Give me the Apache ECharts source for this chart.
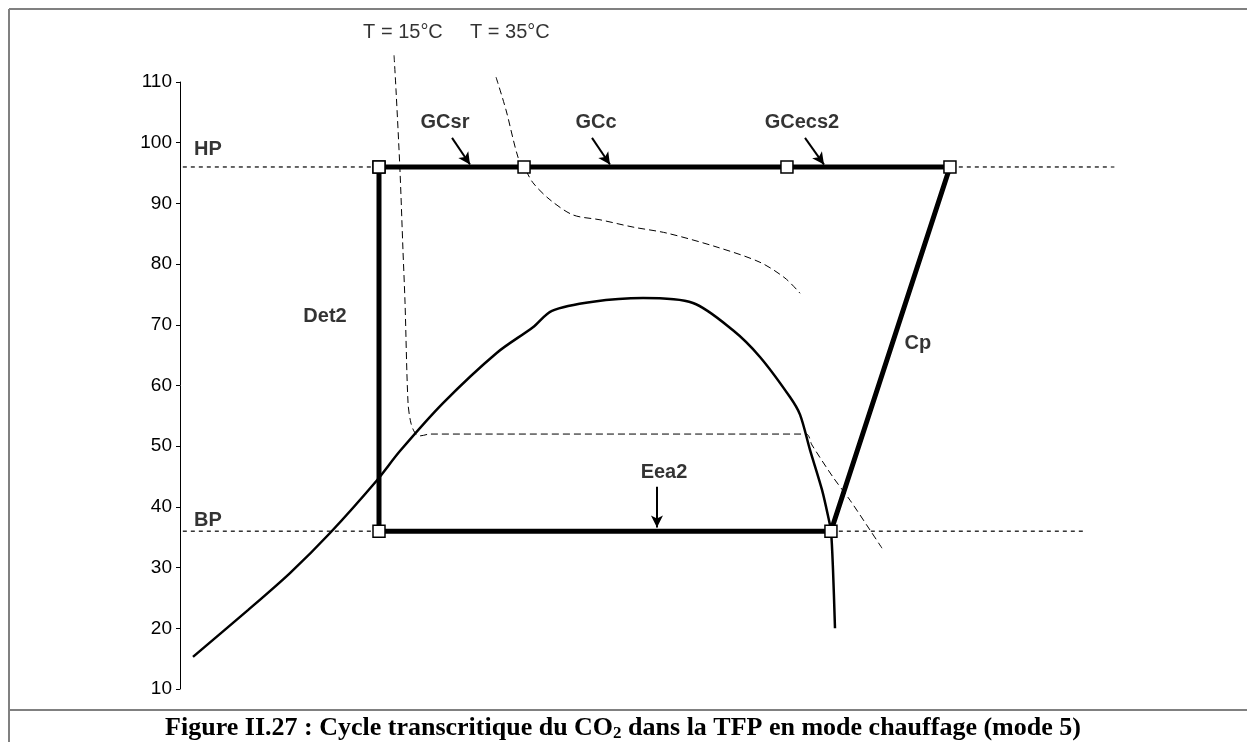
<!DOCTYPE html>
<html>
<head>
<meta charset="utf-8">
<script src="https://cdn.jsdelivr.net/npm/echarts@6/dist/echarts.min.js"></script>
<style>
  html, body { margin: 0; padding: 0; background: #fff; }
  #main { width: 1247px; height: 742px; }
</style>
</head>
<body>
<div id="main"></div>
<script>
// cycle (enthalpie arbitraire 0-100, pression en bar)
let cycleX = [21.17, 36.6, 64.57, 81.91, 69.25, 21.17, 21.17];
let cycleY = [96, 96, 96, 96, 36, 36, 96];

// courbe de saturation
let domeX = [1.38, 7.23, 11.7, 15.96, 20.96, 23.4, 27.98, 33.72, 37.55, 39.57, 43.94, 49.26, 54.57, 58.83, 61.7, 64.89, 65.96, 67.02, 68.3, 69.04, 69.26, 69.47, 69.68];
let domeY = [15.3, 23.0, 29.1, 35.7, 44.4, 49.2, 57.1, 65.4, 69.6, 72.3, 73.8, 74.4, 73.6, 69.1, 64.7, 58.1, 55.2, 49.4, 42.8, 37.8, 36.0, 29.6, 20.0];

// isothermes
let iso15X = [22.77, 22.98, 23.4, 23.72, 23.94, 24.26, 24.57, 25.0, 25.53, 26.6, 66.6, 67.23, 69.47, 71.28, 73.4, 74.68];
let iso15Y = [114.4, 108.7, 95.5, 82.3, 73.6, 57.1, 53.8, 52.2, 51.7, 52.0, 52.0, 50.2, 44.9, 41.1, 36.2, 33.2];
let iso35X = [33.62, 34.68, 35.96, 36.6, 37.55, 39.36, 41.81, 44.68, 48.19, 51.81, 57.13, 61.7, 64.36, 65.96];
let iso35Y = [110.8, 105.4, 97.6, 96.0, 93.4, 90.6, 88.1, 87.3, 86.1, 85.1, 82.8, 80.3, 77.7, 75.2];

// niveaux de pression
let hpX = [0.3, 99.4];
let hpY = [96, 96];
let bpX = [0.3, 96.4];
let bpY = [36, 36];

// étiquettes
let boldText = ["HP", "BP", "Det2", "Cp", "GCsr", "GCc", "GCecs2", "Eea2"];
let boldX = [2.98, 2.98, 15.43, 78.5, 28.19, 44.26, 66.17, 51.49];
let boldY = [98.8, 37.8, 71.3, 66.9, 103.4, 103.4, 103.4, 45.75];
let tText = ["T = 15°C", "T = 35°C"];
let tX = [23.72, 35.1];
let tY = [118.2, 118.2];

// flèches
let arrowFrom = [[28.94, 100.8], [43.83, 100.8], [66.49, 100.8], [50.74, 43.3]];
let arrowTo = [[30.85, 96.4], [45.74, 96.4], [68.51, 96.4], [50.74, 36.6]];

function zip(xs, ys) {
  return xs.map((x, i) => [x, ys[i]]);
}

let myChart = echarts.init(document.getElementById("main"));

let dashed = function (name, xs, ys, dash) {
  return {
    name: name,
    type: "line",
    data: zip(xs, ys),
    showSymbol: false,
    clip: false,
    smooth: 0.3,
    z: 2,
    lineStyle: { color: "#000", width: 1, type: dash },
  };
};

let option = {
  animation: false,
  grid: { left: 180, right: 127, top: 82, bottom: 53 },
  xAxis: {
    type: "value",
    min: 0,
    max: 100,
    show: false,
  },
  yAxis: {
    type: "value",
    min: 10,
    max: 110,
    interval: 10,
    splitLine: { show: false },
    axisLine: { show: true, lineStyle: { color: "#000", width: 1 } },
    axisTick: { show: true, length: 4, lineStyle: { color: "#000" } },
    axisLabel: {
      color: "#000",
      fontSize: 19,
      fontFamily: "Liberation Sans, Arial",
      margin: 8,
    },
  },
  graphic: [
    //cadre
    { type: "line", shape: { x1: 9, y1: 9, x2: 1247, y2: 9 }, style: { stroke: "#808080", lineWidth: 2 } },
    { type: "line", shape: { x1: 9, y1: 9, x2: 9, y2: 742 }, style: { stroke: "#808080", lineWidth: 2 } },
    { type: "line", shape: { x1: 9, y1: 710, x2: 1247, y2: 710 }, style: { stroke: "#808080", lineWidth: 2 } },
    {
      type: "text",
      x: 623,
      y: 728,
      style: {
        text: "Figure II.27 : Cycle transcritique du CO{sub|2} dans la TFP en mode chauffage (mode 5)",
        font: "bold 26px 'Liberation Serif', 'Times New Roman'",
        fill: "#000",
        align: "center",
        verticalAlign: "middle",
        rich: {
          sub: {
            font: "bold 17px 'Liberation Serif', 'Times New Roman'",
            fill: "#000",
            padding: [11, 0, 0, 0],
          },
        },
      },
    },
  ],
  series: [
    {
      name: "HP",
      type: "line",
      data: zip(hpX, hpY),
      showSymbol: false,
      z: 1,
      lineStyle: { color: "#000", width: 1.2, type: [4, 4] },
    },
    {
      name: "BP",
      type: "line",
      data: zip(bpX, bpY),
      showSymbol: false,
      z: 1,
      lineStyle: { color: "#000", width: 1.2, type: [4, 4] },
    },
    dashed("T15", iso15X, iso15Y, [7, 4]),
    dashed("T35", iso35X, iso35Y, [7, 4]),
    {
      name: "saturation",
      type: "line",
      data: zip(domeX, domeY),
      showSymbol: false,
      smooth: 0.3,
      z: 3,
      lineStyle: { color: "#000", width: 2.5 },
    },
    {
      name: "cycle",
      type: "line",
      data: zip(cycleX, cycleY),
      symbol: "rect",
      symbolSize: 12,
      showSymbol: true,
      z: 5,
      lineStyle: { color: "#000", width: 5 },
      itemStyle: { color: "#fff", borderColor: "#000", borderWidth: 1.5 },
      //flèches
      markLine: {
        silent: true,
        symbol: ["none", "arrow"],
        symbolSize: [9, 12],
        label: { show: false },
        lineStyle: { color: "#000", width: 2, type: "solid" },
        data: arrowFrom.map((p, i) => [{ coord: p }, { coord: arrowTo[i] }]),
      },
    },
    {
      name: "labels",
      type: "scatter",
      data: zip(boldX, boldY),
      symbolSize: 0,
      clip: false,
      z: 6,
      label: {
        show: true,
        position: "inside",
        color: "#000",
        fontSize: 20,
        fontWeight: "bold",
        fontFamily: "Liberation Sans, Arial",
        formatter: (p) => boldText[p.dataIndex],
      },
    },
    {
      name: "temps",
      type: "scatter",
      data: zip(tX, tY),
      symbolSize: 0,
      clip: false,
      z: 6,
      label: {
        show: true,
        position: "inside",
        color: "#000",
        fontSize: 20,
        fontFamily: "Liberation Sans, Arial",
        formatter: (p) => tText[p.dataIndex],
      },
    },
  ],
};
myChart.setOption(option);
</script>
</body>
</html>
